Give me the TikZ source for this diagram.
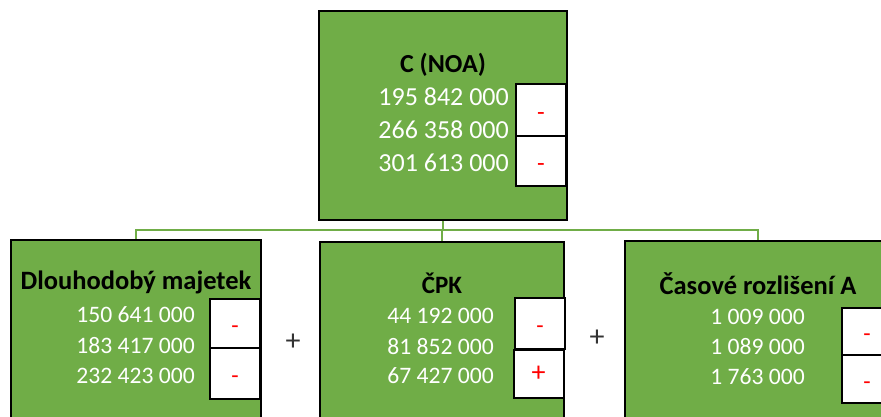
\documentclass[tikz,border=0pt]{standalone}
\usepackage{fontspec}
\setmainfont{Carlito}
\definecolor{boxgreen}{HTML}{70AD47}
\definecolor{linegreen}{HTML}{70AD47}
\definecolor{signred}{HTML}{FF0000}
\tikzset{
  greenbox/.style={draw=black, line width=2.2pt, fill=boxgreen, inner sep=0pt},
  signbox/.style={draw=black, line width=2pt, fill=white, inner sep=0pt, minimum width=50pt, text=signred},
  minusbox/.style={signbox, text height=20pt, text depth=0pt},
  numtxt/.style={anchor=east, inner sep=0pt, text=white},
  ttl/.style={inner sep=0pt, text=black, font=\bfseries},
  conn/.style={draw=linegreen, line width=2pt},
  opsign/.style={inner sep=0pt, text=black!80}
}
\begin{document}
\begin{tikzpicture}[x=1pt,y=-1pt]
\useasboundingbox (0,0) rectangle (881,416);
\clip (0,0) rectangle (881,416);
\fill[white] (0,0) rectangle (881,416);
\coordinate (j) at (443,230);
% boxes
\node[greenbox, minimum width=248pt, minimum height=209pt] (top) at (443,115.5) {};
\node[greenbox, minimum width=250pt, minimum height=200pt] (b1) at (136,340) {};
\node[greenbox, minimum width=244pt, minimum height=200pt] (b2) at (442,342) {};
\node[greenbox, minimum width=266pt, minimum height=200pt] (b3) at (758,341) {};
\draw[conn] (top.south) -- (j);
\draw[conn] (j) -| (b1.north);
\draw[conn] (j) -| (b2.north);
\draw[conn] (j) -| (b3.north);
% top box text
\node[ttl, font=\bfseries\fontsize{26}{30}\selectfont] (tt) at (443,65) {C (NOA)};
\node[numtxt, font=\fontsize{26}{31}\selectfont] (t1) at (509,97) {195 842 000};
\node[numtxt, font=\fontsize{26}{31}\selectfont] (t2) at (509,130) {266 358 000};
\node[numtxt, font=\fontsize{26}{31}\selectfont] (t3) at (509,163) {301 613 000};
\node[minusbox, minimum height=52pt, font=\fontsize{25}{28}\selectfont] (ts1) at (541,110) {-};
\node[minusbox, minimum height=50pt, font=\fontsize{25}{28}\selectfont] (ts2) at (541,161) {-};
% left box text
\node[ttl, font=\bfseries\fontsize{26.5}{30}\selectfont] (lt) at (136,282) {Dlouhodobý majetek};
\node[numtxt, font=\fontsize{23.6}{28}\selectfont] (l1) at (195,315) {150 641 000};
\node[numtxt, font=\fontsize{23.6}{28}\selectfont] (l2) at (195,346) {183 417 000};
\node[numtxt, font=\fontsize{23.6}{28}\selectfont] (l3) at (195,376) {232 423 000};
\node[minusbox, minimum height=49pt, font=\fontsize{24}{26}\selectfont] (ls1) at (235,323.5) {-};
\node[minusbox, minimum height=51pt, font=\fontsize{24}{26}\selectfont] (ls2) at (235,373.5) {-};
% middle box text
\node[ttl, font=\bfseries\fontsize{25}{30}\selectfont] (mt) at (442,283) {ČPK};
\node[numtxt, font=\fontsize{23.6}{28}\selectfont] (m1) at (494,316) {44 192 000};
\node[numtxt, font=\fontsize{23.6}{28}\selectfont] (m2) at (494,347) {81 852 000};
\node[numtxt, font=\fontsize{23.6}{28}\selectfont] (m3) at (494,376) {67 427 000};
\node[minusbox, minimum height=51pt, font=\fontsize{24}{26}\selectfont] (ms1) at (540,323.5) {-};
\node[signbox, minimum height=48pt, font=\fontsize{28}{30}\selectfont] (ms2) at (538.5,374) {+};
% right box text
\node[ttl, font=\bfseries\fontsize{26.5}{30}\selectfont] (rt) at (758,284) {Časové rozlišení A};
\node[numtxt, font=\fontsize{23.6}{28}\selectfont] (r1) at (805,317) {1 009 000};
\node[numtxt, font=\fontsize{23.6}{28}\selectfont] (r2) at (805,347) {1 089 000};
\node[numtxt, font=\fontsize{23.6}{28}\selectfont] (r3) at (805,377) {1 763 000};
\node[minusbox, minimum height=47pt, font=\fontsize{24}{26}\selectfont] (rs1) at (867,331.5) {-};
\node[minusbox, minimum height=48pt, font=\fontsize{24}{26}\selectfont] (rs2) at (867,379) {-};
% operators
\node[opsign, font=\fontsize{30}{32}\selectfont] (p1) at (293,342) {+};
\node[opsign, font=\fontsize{30}{32}\selectfont] (p2) at (597,338) {+};
\end{tikzpicture}
\end{document}
